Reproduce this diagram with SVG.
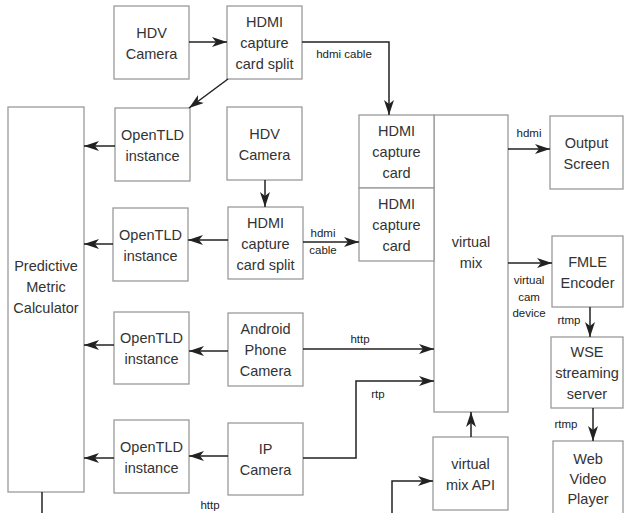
<svg xmlns="http://www.w3.org/2000/svg" width="624" height="513" viewBox="0 0 624 513">
  <style>
    .box { fill: #ffffff; stroke: #9a9a9a; stroke-width: 1.3; }
    .nt { font-family: "Liberation Sans", Arial, sans-serif; font-size: 14.5px; fill: #333333; text-anchor: middle; }
    .lbl { font-family: "Liberation Sans", Arial, sans-serif; font-size: 11.5px; fill: #222222; text-anchor: middle; }
    .edge { fill: none; stroke: #222222; stroke-width: 1.5; }
    .arr { marker-end: url(#head); }
  </style>
  <defs>
    <marker id="head" viewBox="0 0 15 10" refX="15" refY="5" markerWidth="15" markerHeight="10" markerUnits="userSpaceOnUse" orient="auto">
      <path d="M0,0 L15,5 L0,10 L4,5 Z" fill="#222222"/>
    </marker>
  </defs>
  <rect width="624" height="513" fill="#ffffff"/>

  <!-- nodes -->
  <g id="hdv-camera-1">
    <rect class="box" x="114" y="6" width="75" height="73"/>
    <text class="nt" x="151.5" y="37.5">HDV<tspan x="151.5" dy="21">Camera</tspan></text>
  </g>
  <g id="hdmi-split-1">
    <rect class="box" x="227" y="6" width="75" height="73"/>
    <text class="nt" x="264.5" y="27">HDMI<tspan x="264.5" dy="21">capture</tspan><tspan x="264.5" dy="21">card split</tspan></text>
  </g>
  <g id="predictive">
    <rect class="box" x="8" y="107" width="76" height="385"/>
    <text class="nt" x="46" y="271">Predictive<tspan x="46" dy="21">Metric</tspan><tspan x="46" dy="21">Calculator</tspan></text>
  </g>
  <g id="opentld-1">
    <rect class="box" x="115" y="108" width="75" height="73"/>
    <text class="nt" x="152.5" y="140">OpenTLD<tspan x="152.5" dy="21">instance</tspan></text>
  </g>
  <g id="hdv-camera-2">
    <rect class="box" x="227" y="107" width="75" height="73"/>
    <text class="nt" x="264.5" y="138.5">HDV<tspan x="264.5" dy="21">Camera</tspan></text>
  </g>
  <g id="opentld-2">
    <rect class="box" x="113" y="208" width="75" height="73"/>
    <text class="nt" x="150.5" y="240">OpenTLD<tspan x="150.5" dy="21">instance</tspan></text>
  </g>
  <g id="hdmi-split-2">
    <rect class="box" x="228" y="207" width="75" height="72"/>
    <text class="nt" x="265.5" y="227.5">HDMI<tspan x="265.5" dy="21">capture</tspan><tspan x="265.5" dy="21">card split</tspan></text>
  </g>
  <g id="opentld-3">
    <rect class="box" x="114" y="312" width="75" height="72"/>
    <text class="nt" x="151.5" y="343">OpenTLD<tspan x="151.5" dy="21">instance</tspan></text>
  </g>
  <g id="android-camera">
    <rect class="box" x="228" y="313" width="75" height="73"/>
    <text class="nt" x="265.5" y="334">Android<tspan x="265.5" dy="21">Phone</tspan><tspan x="265.5" dy="21">Camera</tspan></text>
  </g>
  <g id="opentld-4">
    <rect class="box" x="114" y="420" width="75" height="73"/>
    <text class="nt" x="151.5" y="451.5">OpenTLD<tspan x="151.5" dy="21">instance</tspan></text>
  </g>
  <g id="ip-camera">
    <rect class="box" x="228" y="423" width="75" height="72"/>
    <text class="nt" x="265.5" y="454">IP<tspan x="265.5" dy="21">Camera</tspan></text>
  </g>
  <g id="virtual-mix">
    <rect class="box" x="434" y="115" width="74" height="297"/>
    <text class="nt" x="471" y="247">virtual<tspan x="471" dy="21">mix</tspan></text>
  </g>
  <g id="hdmi-card-1">
    <rect class="box" x="359" y="115" width="75" height="73"/>
    <text class="nt" x="396.5" y="135.5">HDMI<tspan x="396.5" dy="21">capture</tspan><tspan x="396.5" dy="21">card</tspan></text>
  </g>
  <g id="hdmi-card-2">
    <rect class="box" x="359" y="188" width="75" height="73"/>
    <text class="nt" x="396.5" y="208.5">HDMI<tspan x="396.5" dy="21">capture</tspan><tspan x="396.5" dy="21">card</tspan></text>
  </g>
  <g id="virtual-mix-api">
    <rect class="box" x="433" y="437" width="75" height="73"/>
    <text class="nt" x="470.5" y="468.5">virtual<tspan x="470.5" dy="21">mix API</tspan></text>
  </g>
  <g id="output-screen">
    <rect class="box" x="550" y="116" width="73" height="73"/>
    <text class="nt" x="586.5" y="147.5">Output<tspan x="586.5" dy="21">Screen</tspan></text>
  </g>
  <g id="fmle-encoder">
    <rect class="box" x="552" y="236" width="71" height="71"/>
    <text class="nt" x="587.5" y="266.5">FMLE<tspan x="587.5" dy="21">Encoder</tspan></text>
  </g>
  <g id="wse-server">
    <rect class="box" x="551" y="337" width="72" height="71"/>
    <text class="nt" x="587" y="357">WSE<tspan x="587" dy="21">streaming</tspan><tspan x="587" dy="21">server</tspan></text>
  </g>
  <g id="web-player">
    <rect class="box" x="553" y="441" width="70" height="80"/>
    <text class="nt" x="588" y="464">Web<tspan x="588" dy="20">Video</tspan><tspan x="588" dy="20">Player</tspan></text>
  </g>

  <!-- connectors -->
  <g id="connectors">
    <path class="edge arr" d="M189,42 H227"/>
    <path class="edge arr" d="M302,42 H389 V115"/>
    <path class="edge arr" d="M228,79 L189,108"/>
    <path class="edge arr" d="M115,146 H84"/>
    <path class="edge arr" d="M265,180 V207"/>
    <path class="edge arr" d="M228,240 H188"/>
    <path class="edge arr" d="M113,244 H84"/>
    <path class="edge arr" d="M303,242 H359"/>
    <path class="edge arr" d="M228,351 H189"/>
    <path class="edge arr" d="M114,345 H84"/>
    <path class="edge arr" d="M303,349 H434"/>
    <path class="edge arr" d="M228,456 H189"/>
    <path class="edge arr" d="M114,458 H84"/>
    <path class="edge arr" d="M303,458 H356 V381 H434"/>
    <path class="edge arr" d="M471,437 V412"/>
    <path class="edge arr" d="M392,513 V481 H433"/>
    <path class="edge" d="M42,492 V513"/>
    <path class="edge arr" d="M508,149 H550"/>
    <path class="edge arr" d="M508,263 H552"/>
    <path class="edge arr" d="M590,307 V337"/>
    <path class="edge arr" d="M593,408 V441"/>

    <text class="lbl" x="344" y="58">hdmi cable</text>
    <text class="lbl" x="323" y="237">hdmi</text>
    <text class="lbl" x="323" y="254">cable</text>
    <text class="lbl" x="360" y="343">http</text>
    <text class="lbl" x="378" y="398">rtp</text>
    <text class="lbl" x="210" y="509">http</text>
    <text class="lbl" x="529" y="137">hdmi</text>
    <text class="lbl" x="529" y="284">virtual</text>
    <text class="lbl" x="529" y="301">cam</text>
    <text class="lbl" x="529" y="317">device</text>
    <text class="lbl" x="569" y="324">rtmp</text>
    <text class="lbl" x="566" y="428">rtmp</text>
  </g>
</svg>
